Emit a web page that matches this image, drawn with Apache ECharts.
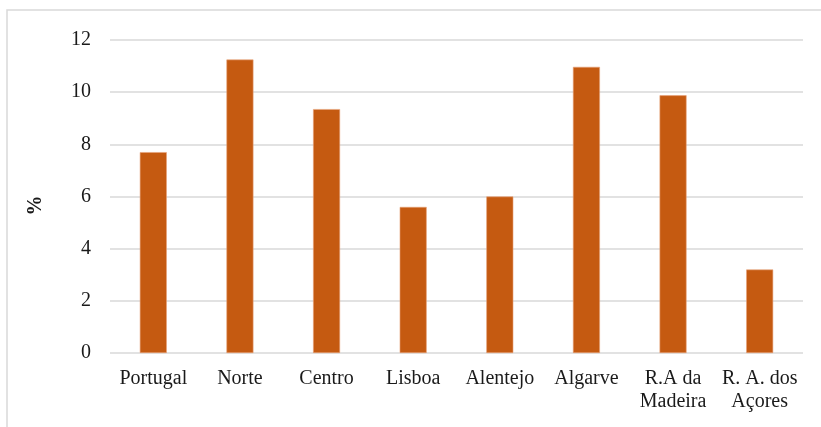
<!DOCTYPE html>
<html>
<head>
<meta charset="utf-8">
<script src="https://cdn.jsdelivr.net/npm/echarts@6/dist/echarts.min.js"></script>
<style>
  html, body { margin: 0; padding: 0; background: #fff; }
  #chart { width: 821px; height: 427px; }
</style>
</head>
<body>
<div id="chart"></div>
<script>
// regions and their values (%)
var regions = ['Portugal', 'Norte', 'Centro', 'Lisboa', 'Alentejo', 'Algarve', 'R.A da\nMadeira', 'R. A. dos\nAçores'];
var values = [7.7, 11.25, 9.35, 5.6, 6.0, 10.97, 9.88, 3.2];
var yTicks = { min: 0, max: 12, interval: 2 };

var myChart = echarts.init(document.getElementById('chart'));
var font = '"Liberation Serif", "Times New Roman", serif';

var option = {
  animation: false,
  backgroundColor: '#fff',
  graphic: [{
    type: 'rect',
    silent: true,
    shape: { x: 7, y: 10, width: 900, height: 500 },
    style: { fill: 'none', stroke: '#d9d9d9', lineWidth: 1.5 }
  }],
  grid: { left: 110, right: 18, top: 40, bottom: 74 },
  xAxis: {
    type: 'category',
    data: regions,
    axisLine: { show: false },
    axisTick: { show: false },
    axisLabel: {
      margin: 14,
      fontFamily: font,
      fontSize: 20,
      color: '#1a1a1a',
      lineHeight: 23,
      interval: 0
    }
  },
  yAxis: {
    type: 'value',
    min: yTicks.min,
    max: yTicks.max,
    interval: yTicks.interval,
    name: '%',
    nameLocation: 'middle',
    nameRotate: 90,
    nameGap: 64,
    nameTextStyle: {
      fontFamily: font,
      fontSize: 20,
      fontWeight: 'bold',
      color: '#1a1a1a',
      padding: [0, 18, 0, 0]
    },
    axisLine: { show: false },
    axisTick: { show: false },
    axisLabel: {
      margin: 19,
      fontFamily: font,
      fontSize: 20,
      color: '#1a1a1a'
    },
    splitLine: { lineStyle: { color: '#d9d9d9', width: 1.5 } }
  },
  series: [{
    type: 'bar',
    data: values,
    barWidth: 27,
    itemStyle: { color: '#c55a11', borderColor: '#e8a27a', borderWidth: 0.6 }
  }]
};

option && myChart.setOption(option);
</script>
</body>
</html>
